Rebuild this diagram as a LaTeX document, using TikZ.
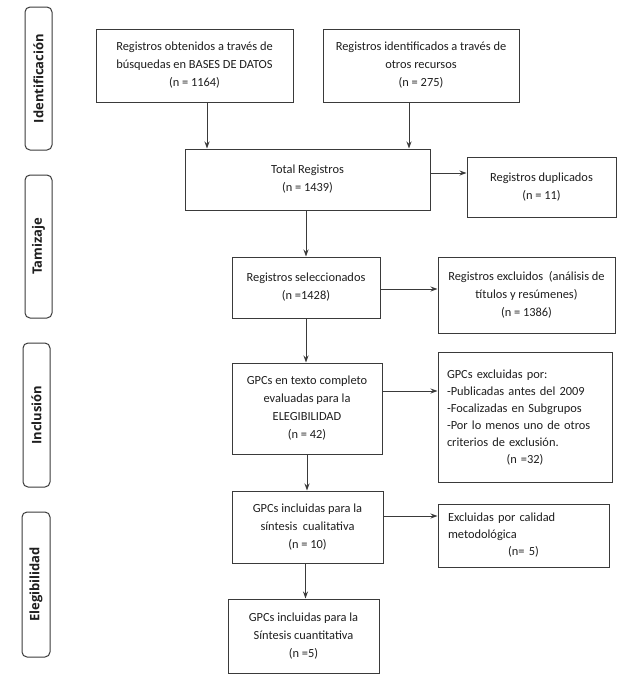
\documentclass[tikz,border=0pt]{standalone}
\usepackage{fontspec}
\setmainfont{Carlito}
\newfontfamily\sidefont{Open Sans}
\usetikzlibrary{arrows.meta}
\definecolor{linec}{HTML}{3A3A3A}
\definecolor{textc}{HTML}{1E1E1E}
\tikzset{
  boxn/.style={draw=linec, line width=1pt, inner sep=0pt, align=center, text=textc,
    font=\fontsize{12.4}{18}\selectfont},
  leftbox/.style={draw=linec, line width=1pt, inner sep=0pt, align=left, text=textc,
    font=\fontsize{12.4}{17}\selectfont},
  sidelab/.style={draw=linec, line width=1pt, rounded corners=5pt, rotate=90, inner sep=0pt,
    text=textc, font=\sidefont\bfseries\fontsize{13}{15}\selectfont},
  arr/.style={draw=linec, line width=1pt, -{Stealth[length=7pt,width=5pt]}}
}
\begin{document}
\begin{tikzpicture}[x=1pt,y=-1pt]
\useasboundingbox (0,0) rectangle (623,686);

% side labels
\node[sidelab, minimum width=143pt, minimum height=27pt] (sIdent) at (38.5,78.5) {Identificación};
\node[sidelab, minimum width=143pt, minimum height=27pt] (sTam) at (38.5,246.5) {Tamizaje};
\node[sidelab, minimum width=144pt, minimum height=27pt] (sInc) at (36.5,415) {Inclusión};
\node[sidelab, minimum width=145pt, minimum height=28pt] (sEle) at (36,584.5) {Elegibilidad};

% boxes
\node[boxn, minimum width=197pt, minimum height=73pt] (b1) at (194.5,65.5)
  {Registros obtenidos a través de\\búsquedas en BASES DE DATOS\\(n = 1164)};
\node[boxn, minimum width=196pt, minimum height=73pt] (b2) at (421,65.5)
  {Registros identificados a través de\\otros recursos\\(n = 275)};
\node[boxn, minimum width=245pt, minimum height=61pt] (total) at (307.5,179.5)
  {Total Registros\\(n = 1439)};
\node[boxn, minimum width=149pt, minimum height=60pt] (dup) at (541.5,187)
  {Registros duplicados\\(n = 11)};
\node[boxn, minimum width=148pt, minimum height=61pt] (sel) at (306,287.5)
  {Registros seleccionados\\(n =1428)};
\node[boxn, minimum width=177pt, minimum height=76pt] (excl) at (526.5,295)
  {Registros excluidos\ \ (análisis de\\títulos y resúmenes)\\(n = 1386)};
\node[boxn, minimum width=150pt, minimum height=91pt] (texto) at (307,408.5)
  {GPCs en texto completo\\evaluadas para la\\ELEGIBILIDAD\\(n = 42)};
\node[leftbox, text width=156pt, minimum width=174pt, minimum height=130pt, inner xsep=9pt] (gexcl) at (525,417.5)
  {GPCs excluidas por:\\-Publicadas antes del 2009\\-Focalizadas en Subgrupos\\\makebox[156pt][s]{-Por lo menos uno de otros}\\criterios de exclusión.\\\makebox[156pt][c]{(n =32)}};
\node[boxn, minimum width=151pt, minimum height=72pt] (cual) at (307.5,527)
  {GPCs incluidas para la\\síntesis\ \ cualitativa\\(n = 10)};
\node[leftbox, text width=151pt, minimum width=171pt, minimum height=63pt, inner xsep=10pt] (cal) at (523.5,535.5)
  {Excluidas por calidad\\metodológica\\\makebox[151pt][c]{(n= 5)}};
\node[boxn, minimum width=151pt, minimum height=74pt] (cuant) at (303.5,636)
  {GPCs incluidas para la\\Síntesis cuantitativa\\(n =5)};

% connectors
\draw[arr] ([xshift=12.5pt]b1.south) coordinate (p1) -- (p1 |- total.north);
\draw[arr] ([xshift=-12pt]b2.south) coordinate (p2) -- (p2 |- total.north);
\draw[arr] ([yshift=6.5pt]total.east) coordinate (p3) -- (p3 -| dup.west);
\draw[arr] (total.south -| sel.north) -- (sel.north);
\draw[arr] ([yshift=-1.5pt]sel.east) coordinate (p4) -- (p4 -| excl.west);
\draw[arr] (sel.south) -- (sel.south |- texto.north);
\draw[arr] ([yshift=17.5pt]texto.east) coordinate (p5) -- (p5 -| gexcl.west);
\draw[arr] (texto.south) -- (texto.south |- cual.north);
\draw[arr] ([yshift=11pt]cual.east) coordinate (p6) -- (p6 -| cal.west);
\draw[arr] ([xshift=-2pt]cual.south) coordinate (p7) -- (p7 |- cuant.north);
\end{tikzpicture}
\end{document}
